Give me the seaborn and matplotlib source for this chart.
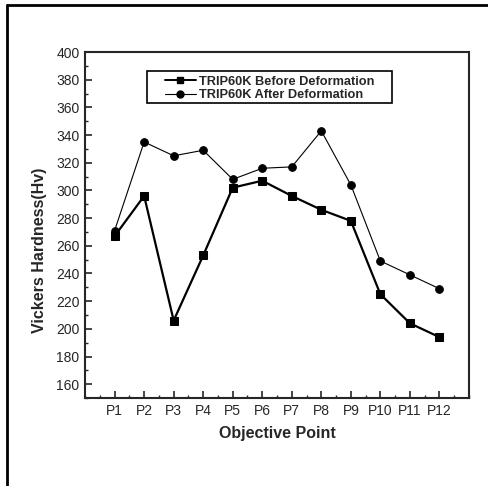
import matplotlib
matplotlib.use("Agg")
import matplotlib.pyplot as plt
from matplotlib.ticker import MultipleLocator
from matplotlib.lines import Line2D
from matplotlib.patches import Rectangle
import seaborn as sns
import pandas as pd

points = ["P1", "P2", "P3", "P4", "P5", "P6", "P7", "P8", "P9", "P10", "P11", "P12"]
before = [267, 296, 206, 253, 302, 307, 296, 286, 278, 225, 204, 194]
after = [271, 335, 325, 329, 308, 316, 317, 343, 304, 249, 239, 229]
label_before = "TRIP60K Before Deformation"
label_after = "TRIP60K After Deformation"

sns.set_style("ticks")
plt.rcParams['font.family'] = ['Liberation Sans', 'DejaVu Sans']

idx = list(range(1, len(points) + 1))
df_b = pd.DataFrame({"x": idx, "y": before})
df_a = pd.DataFrame({"x": idx, "y": after})

fig = plt.figure(figsize=(4.89, 4.86), dpi=100)
ax = fig.add_axes([0.174, 0.181, 0.785, 0.712])

sns.lineplot(data=df_b, x="x", y="y", ax=ax, color="black", linewidth=1.6,
             marker="s", markersize=6, markeredgecolor="black")
sns.lineplot(data=df_a, x="x", y="y", ax=ax, color="black", linewidth=0.8,
             marker="o", markersize=5.5, markeredgecolor="black")

ax.set_xlim(0, 13)
ax.set_ylim(150, 400)
ax.set_xticks(idx)
ax.set_xticklabels(points)
ax.xaxis.set_minor_locator(MultipleLocator(0.5))
ax.set_yticks(list(range(160, 401, 20)))
ax.yaxis.set_minor_locator(MultipleLocator(10))
ax.tick_params(axis="both", which="major", direction="in", length=5, width=1.2,
               labelsize=10, pad=4, top=False, right=False)
ax.tick_params(axis="both", which="minor", direction="in", length=2.5, width=1,
               top=False, right=False)
for s in ax.spines.values():
    s.set_linewidth(1.5)
    s.set_visible(True)

ax.set_xlabel("Objective Point", fontsize=11.5, fontweight="bold", labelpad=6)
ax.set_ylabel("Vickers Hardness(Hv)", fontsize=11.5, fontweight="bold")
ax.yaxis.set_label_coords(-0.099, 0.428)

handles = [Line2D([], [], color="black", linewidth=1.4, marker="s", markersize=5),
           Line2D([], [], color="black", linewidth=0.8, marker="o", markersize=5)]
leg = ax.legend(handles, [label_before, label_after], loc="upper left",
                bbox_to_anchor=(0.208, 0.932), borderaxespad=0, frameon=False,
                prop={"weight": "bold", "size": 9.2},
                handlelength=2.4, borderpad=0, labelspacing=0.15, handletextpad=0.3)
ax.add_patch(Rectangle((0.161, 0.853), 0.639, 0.092, transform=ax.transAxes,
                       fill=False, edgecolor="black", linewidth=1.2, zorder=5))

# outer figure frame (left and top)
fig.add_artist(Line2D([0.014, 0.014], [0.0, 0.99], transform=fig.transFigure,
                      color="black", linewidth=2))
fig.add_artist(Line2D([0.014, 1.0], [0.99, 0.99], transform=fig.transFigure,
                      color="black", linewidth=2))

fig.savefig("out.png", dpi=100)
